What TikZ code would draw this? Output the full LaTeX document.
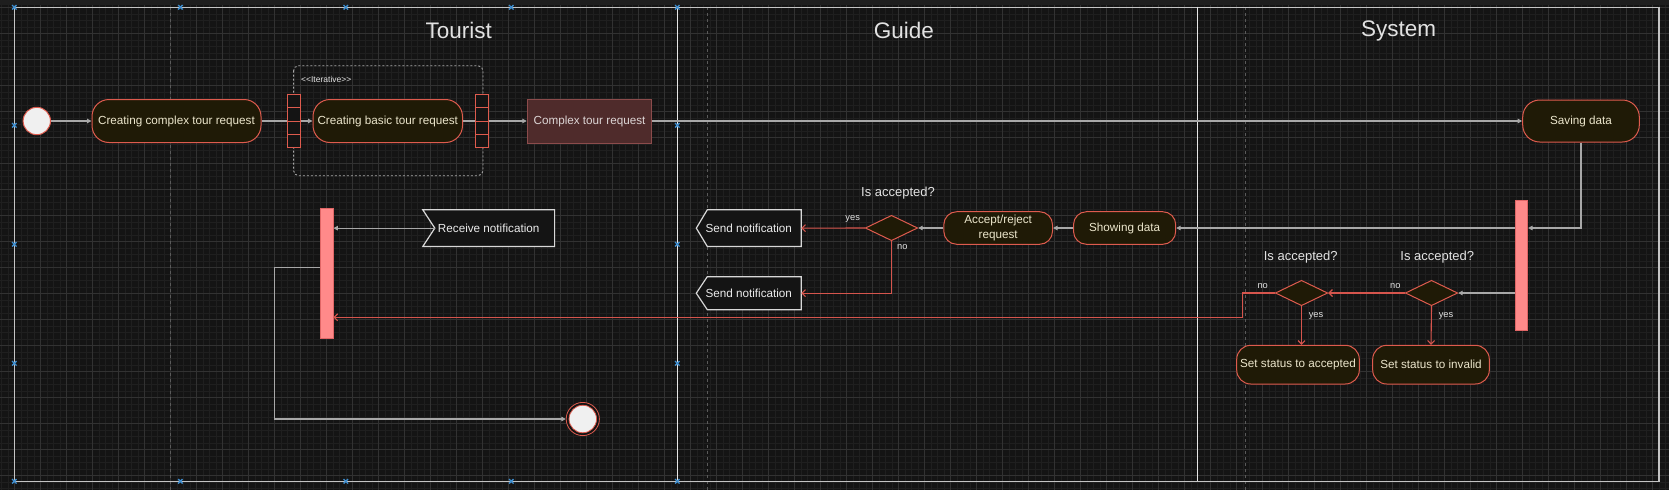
\documentclass[tikz,border=0pt]{standalone}
\usepackage{fontspec}
\setmainfont{Liberation Sans}
\usetikzlibrary{shapes.geometric,arrows.meta,calc}
\definecolor{bg}{HTML}{141414}
\definecolor{band}{HTML}{1E1E1E}
\definecolor{gminor}{HTML}{1F1F1F}
\definecolor{gmajor}{HTML}{323232}
\definecolor{actfill}{HTML}{1F1A06}
\definecolor{actdraw}{HTML}{DE5B4E}
\definecolor{acttext}{HTML}{ECE6CC}
\definecolor{redline}{HTML}{D6554D}
\definecolor{grayline}{HTML}{A8A8A8}
\definecolor{objfill}{HTML}{4F2B2B}
\definecolor{objdraw}{HTML}{8C4C4C}
\definecolor{objtext}{HTML}{DDD5D5}
\definecolor{barfill}{HTML}{FF8A8A}
\definecolor{bardraw}{HTML}{E06666}
\definecolor{lbl}{HTML}{E2E2E2}
\definecolor{handle}{HTML}{3E8ED0}
\definecolor{pool}{HTML}{C4C4C4}
\definecolor{lane}{HTML}{E6E6E6}
\definecolor{pagebreak}{HTML}{5A5A5A}
\definecolor{sigline}{HTML}{D8D8D8}
\newcommand\myNodeFont{\fontsize{11.7}{14.3}\selectfont}
\tikzset{
  act/.style={draw=actdraw, fill=actfill, text=acttext, line width=1pt, rounded corners=#1, inner sep=0pt, font=\myNodeFont, align=center},
  act/.default=15,
  obj/.style={draw=objdraw, fill=objfill, text=objtext, line width=1pt, inner sep=0pt, font=\myNodeFont},
  pinbox/.style={draw=actdraw, fill=bg, line width=1pt, inner sep=0pt, minimum width=13.2pt, minimum height=52.3pt},
  pinline/.style={draw=actdraw, line width=1pt},
  barbox/.style={draw=bardraw, fill=barfill, line width=0.8pt, inner sep=0pt},
  dia/.style={diamond, draw=actdraw, fill=actfill, line width=1pt, inner sep=0pt, minimum width=52.4pt, minimum height=25.4pt},
  startc/.style={circle, draw=actdraw, fill=white!94!black, line width=1pt, inner sep=0pt, minimum size=27.4pt},
  sigbox/.style={inner sep=0pt},
  sigshape/.style={draw=sigline, fill=bg, line width=1.2pt},
  ntext/.style={text=white!92!black, font=\myNodeFont, inner sep=0pt},
  gline/.style={draw=grayline, line width=1.1pt},
  garrow/.style={gline, -{Triangle[length=4.5pt,width=4.5pt]}},
  rarrow/.style={draw=redline, line width=1.1pt, -{Straight Barb[length=3.5pt,width=7pt]}},
  small/.style={text=lbl, font=\fontsize{9.3}{11}\selectfont, inner sep=0pt},
  question/.style={text=lbl, font=\fontsize{13}{15}\selectfont, inner sep=0pt},
  title/.style={text=lbl, font=\fontsize{22.5}{26}\selectfont, inner sep=0pt},
  hdl/.style={draw=handle, line width=1.4pt},
}
\begin{document}
\begin{tikzpicture}[x=1pt,y=-1pt]
\useasboundingbox (0,0) rectangle (1669,490);
\fill[bg] (0,0) rectangle (1669,490);
\fill[band] (0,0) rectangle (1669,5);
% grid
\foreach \i in {0,...,256} {\draw[gminor, line width=0.5pt] ({1.3+6.5*\i},5) -- ({1.3+6.5*\i},490);}
\foreach \i in {1,...,75} {\draw[gminor, line width=0.5pt] (0,{0.8+6.5*\i}) -- (1669,{0.8+6.5*\i});}
\foreach \i in {0,...,63} {\draw[gmajor, line width=0.7pt] ({14.3+26*\i},5) -- ({14.3+26*\i},490);}
\foreach \i in {0,...,18} {\draw[gmajor, line width=0.7pt] (0,{7.3+26*\i}) -- (1669,{7.3+26*\i});}
% page breaks
\foreach \x in {170.4,707.5,1245.5} {\draw[pagebreak, line width=0.6pt, dash pattern=on 3pt off 3pt] (\x,7.3) -- (\x,490);}
% pool and lanes
\draw[pool, line width=1.5pt] (14.3,7.3) rectangle (1659,481.3);
\draw[lane, line width=1.2pt] (677.3,7.3) -- (677.3,481.3);
\draw[lane, line width=1.2pt] (1197.3,7.3) -- (1197.3,481.3);
\node[title] (tTourist) at (458.8,30) {Tourist};
\node[title] (tGuide) at (903.8,30) {Guide};
\node[title] (tSystem) at (1398.7,30.5) {System};

% iterative region
\draw[grayline, line width=0.9pt, dash pattern=on 2pt off 2pt, rounded corners=5pt] (293.6,65.7) rectangle (483,175.7);
\node[text=lbl, font=\fontsize{8.5}{10}\selectfont, anchor=west, inner sep=0pt] (iter) at (301,79) {<{}<Iterative>{}>};

% tourist lane nodes
\node[startc] (st) at (36.8,121) {};
\node[act=17, minimum width=169pt, minimum height=43pt] (b1) at (176.5,121) {Creating complex tour request};
\node[act=17, minimum width=149.5pt, minimum height=43pt] (b2) at (387.75,121) {Creating basic tour request};
\node[obj, minimum width=124.5pt, minimum height=44pt] (cx) at (589.5,121) {Complex tour request};
\node[pinbox] (p1) at (294.1,121) {};
\node[pinbox] (p2) at (482.35,121) {};
\foreach \p in {p1,p2} {\foreach \f in {0.25,0.5,0.75} {\draw[pinline] ($(\p.north west)!\f!(\p.south west)$) -- ($(\p.north east)!\f!(\p.south east)$);}}
\node[barbox, minimum width=13.1pt, minimum height=130.3pt] (bar1) at (326.45,273.15) {};
\node[sigbox, minimum width=131.4pt, minimum height=36.3pt] (rv) at (488.7,228.15) {};
\coordinate (rvn) at ($(rv.west)+(12,0)$);
\draw[sigshape] (rv.north west) -- (rv.north east) -- (rv.south east) -- (rv.south west) -- (rvn) -- cycle;
\node[ntext] (rvt) at (rv) {Receive notification};
\node[circle, draw=actdraw, line width=0.8pt, fill=bg, inner sep=0pt, minimum size=33.2pt] (en) at (582.8,419) {};
\node[circle, draw=actdraw, line width=0.8pt, fill=white!94!black, inner sep=0pt, minimum size=27.5pt] (eni) at (en) {};

% guide lane nodes
\node[act=13, minimum width=102.2pt, minimum height=32.6pt] (sh) at (1124.6,228) {Showing data};
\node[act=13, minimum width=108.7pt, minimum height=32.6pt] (ar) at (998.15,228) {Accept/reject\\request};
\node[dia] (dg) at (891.5,228) {};
\node[question] (qg) at (898,192.7) {Is accepted?};
\node[sigbox, minimum width=104.5pt, minimum height=36.3pt] (sn1) at (748.75,228.15) {};
\node[sigbox, minimum width=104.5pt, minimum height=32.7pt] (sn2) at (748.75,293.2) {};
\foreach \s in {sn1,sn2} {\draw[sigshape] (\s.north east) -- (\s.south east) -- ($(\s.south west)+(11,0)$) -- (\s.west) -- ($(\s.north west)+(11,0)$) -- cycle;}
\node[ntext] (sn1t) at (sn1) {Send notification};
\node[ntext] (sn2t) at (sn2) {Send notification};

% system lane nodes
\node[act=17, minimum width=116.6pt, minimum height=42pt] (sv) at (1581,121) {Saving data};
\node[barbox, minimum width=12.7pt, minimum height=130pt] (bar2) at (1521.35,265) {};
\node[dia] (ds1) at (1301.5,293) {};
\node[dia] (ds2) at (1431.5,293) {};
\node[question] (q1) at (1300.7,257.3) {Is accepted?};
\node[question] (q2) at (1437.3,257.3) {Is accepted?};
\node[act=14, minimum width=122.6pt, minimum height=38.7pt] (sa) at (1298,364.65) {Set status to accepted};
\node[act=14, minimum width=116.6pt, minimum height=38.7pt] (si) at (1431,364.65) {Set status to invalid};

% connectors
\draw[garrow] (st.east) -- (b1.west);
\draw[gline] (b1.east) -- (p1.west);
\draw[garrow] (p1.east) -- (b2.west);
\draw[gline] (b2.east) -- (p2.west);
\draw[garrow] (p2.east) -- (cx.west);
\draw[garrow] (cx.east) -- (sv.west);
\draw[garrow] (sv.south) |- (bar2.east |- sh.east);
\draw[garrow] (bar2.west |- sh.east) -- (sh.east);
\draw[garrow] (sh.west) -- (ar.east);
\draw[garrow] (ar.west) -- (dg.east);
\draw[rarrow] (dg.west) -- (sn1.east);
\draw[rarrow] (dg.south) |- (sn2.east);
\node[small] (lyg) at (852.7,219.3) {yes};
\node[small] (lng) at (902.4,247.3) {no};
\draw[garrow] (bar2.west |- ds2.east) -- (ds2.east);
\draw[rarrow] (ds2.west) -- (ds1.east);
\draw[rarrow] (ds2.south) -- (si.north);
\draw[rarrow] (ds1.south) -- (ds1.south |- sa.north);
\coordinate (jn) at (1242.7,317.3);
\draw[rarrow] (ds1.west) -- (jn |- ds1.west) -- (jn) -- (jn -| bar1.east);
\node[small] (ln2) at (1395.3,286) {no};
\node[small] (ln1) at (1262.7,286) {no};
\node[small] (ly2) at (1446,316) {yes};
\node[small] (ly1) at (1316,316) {yes};
\draw[garrow] (rvn) -- (rvn -| bar1.east);
\coordinate (turn) at (274.4,267.3);
\draw[garrow] (turn -| bar1.west) -- (turn) |- (en);

% selection handles
\foreach \x/\y in {14.3/7.3,180.4/7.3,345.8/7.3,511.3/7.3,677.3/7.3,14.3/481.3,180.4/481.3,345.8/481.3,511.3/481.3,677.3/481.3,14.3/125.3,14.3/244.3,14.3/363.3,677.3/125.3,677.3/244.3,677.3/363.3}
  {\draw[hdl] (\x-2.2,\y-2.2) -- (\x+2.2,\y+2.2) (\x-2.2,\y+2.2) -- (\x+2.2,\y-2.2);}
\end{tikzpicture}
\end{document}
